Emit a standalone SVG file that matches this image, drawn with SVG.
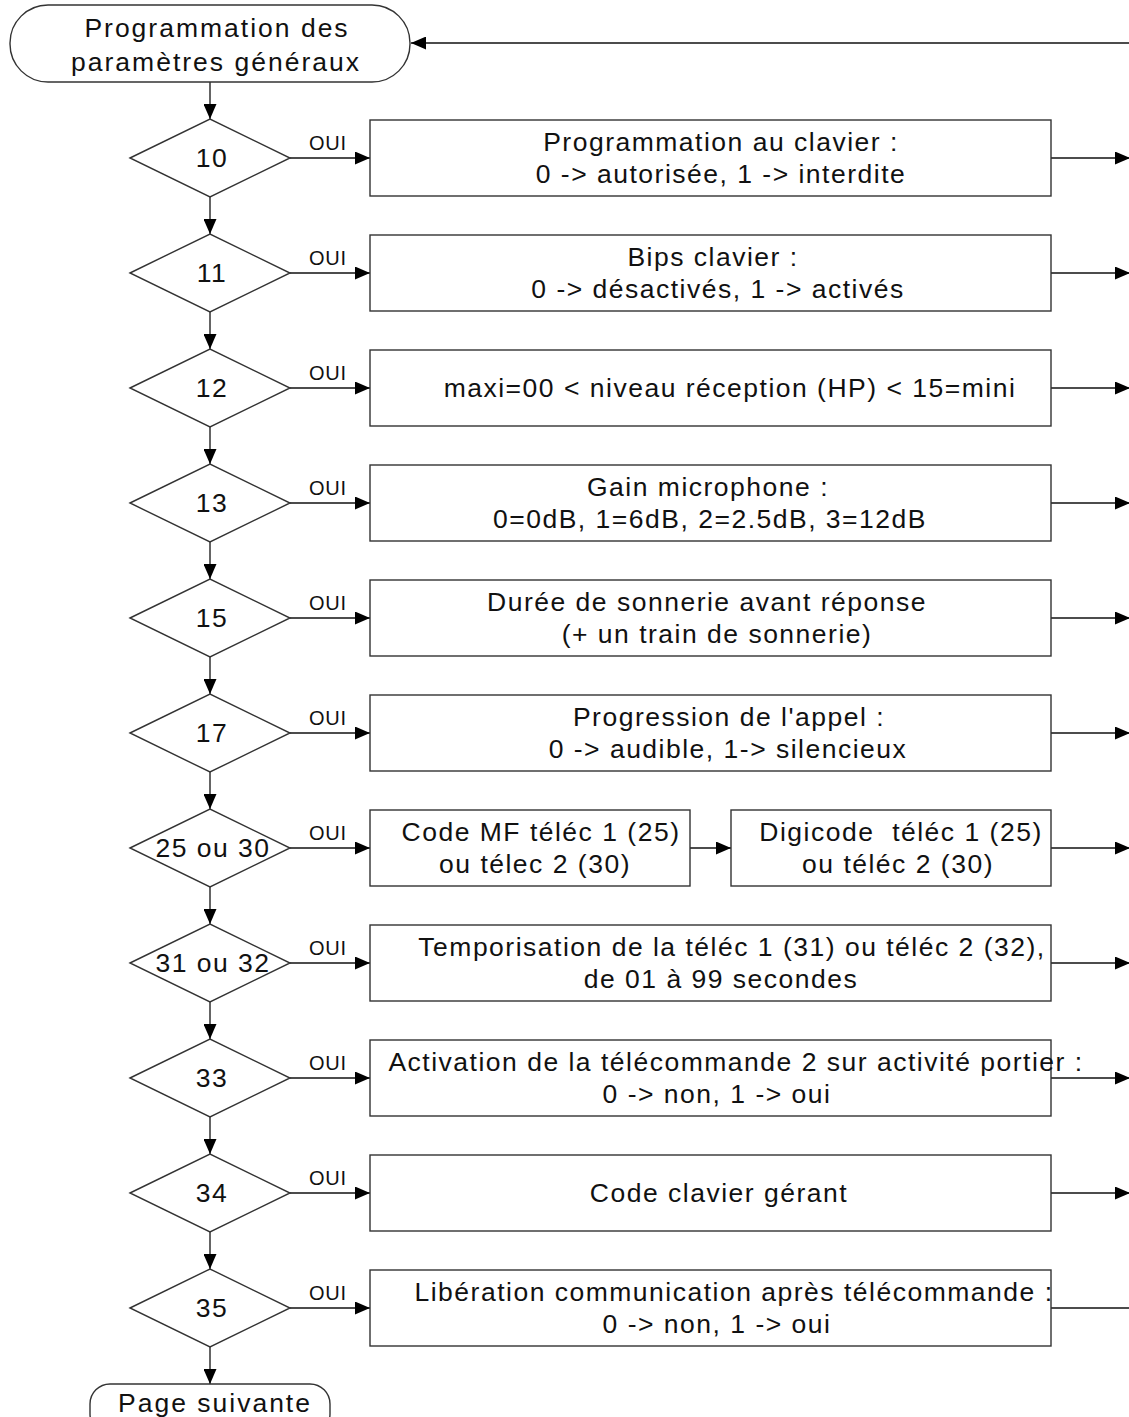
<svg xmlns="http://www.w3.org/2000/svg" width="1129" height="1417" viewBox="0 0 1129 1417">
  <style>
    .shape { fill: #fff; stroke: #333; stroke-width: 1.4; }
    .wire { fill: none; stroke: #111; stroke-width: 1.3; }
    .t { font-family: "Liberation Sans", Arial, sans-serif; font-size: 26.5px; letter-spacing: 1.5px; fill: #111; text-anchor: middle; }
    .big { letter-spacing: 2px; }
    .oui { font-family: "Liberation Sans", Arial, sans-serif; font-size: 20px; letter-spacing: 0.8px; fill: #111; }
  </style>
  <defs>
    <marker id="arrow" markerUnits="userSpaceOnUse" markerWidth="15" markerHeight="13" refX="15" refY="6.5" orient="auto">
      <path d="M0,0 L15,6.5 L0,13 Z" fill="#000"/>
    </marker>
  </defs>

  <rect width="1129" height="1417" fill="#fff"/>

  <!-- connectors -->
  <g id="connectors" class="wire">
    <path d="M1129,43 L411,43" marker-end="url(#arrow)"/>
    <path d="M210,82 L210,119" marker-end="url(#arrow)"/>
    <!-- vertical chain between decisions -->
    <path d="M210,197 L210,234" marker-end="url(#arrow)"/>
    <path d="M210,312 L210,349" marker-end="url(#arrow)"/>
    <path d="M210,427 L210,464" marker-end="url(#arrow)"/>
    <path d="M210,542 L210,579" marker-end="url(#arrow)"/>
    <path d="M210,657 L210,694" marker-end="url(#arrow)"/>
    <path d="M210,772 L210,809" marker-end="url(#arrow)"/>
    <path d="M210,887 L210,924" marker-end="url(#arrow)"/>
    <path d="M210,1002 L210,1039" marker-end="url(#arrow)"/>
    <path d="M210,1117 L210,1154" marker-end="url(#arrow)"/>
    <path d="M210,1232 L210,1269" marker-end="url(#arrow)"/>
    <path d="M210,1347 L210,1384" marker-end="url(#arrow)"/>
    <!-- OUI branches -->
    <path d="M290,158 L370,158" marker-end="url(#arrow)"/>
    <path d="M290,273 L370,273" marker-end="url(#arrow)"/>
    <path d="M290,388 L370,388" marker-end="url(#arrow)"/>
    <path d="M290,503 L370,503" marker-end="url(#arrow)"/>
    <path d="M290,618 L370,618" marker-end="url(#arrow)"/>
    <path d="M290,733 L370,733" marker-end="url(#arrow)"/>
    <path d="M290,848 L370,848" marker-end="url(#arrow)"/>
    <path d="M290,963 L370,963" marker-end="url(#arrow)"/>
    <path d="M290,1078 L370,1078" marker-end="url(#arrow)"/>
    <path d="M290,1193 L370,1193" marker-end="url(#arrow)"/>
    <path d="M290,1308 L370,1308" marker-end="url(#arrow)"/>
    <path d="M690,848 L731,848" marker-end="url(#arrow)"/>
    <!-- returns to the right -->
    <path d="M1051,158 L1130,158" marker-end="url(#arrow)"/>
    <path d="M1051,273 L1130,273" marker-end="url(#arrow)"/>
    <path d="M1051,388 L1130,388" marker-end="url(#arrow)"/>
    <path d="M1051,503 L1130,503" marker-end="url(#arrow)"/>
    <path d="M1051,618 L1130,618" marker-end="url(#arrow)"/>
    <path d="M1051,733 L1130,733" marker-end="url(#arrow)"/>
    <path d="M1051,848 L1130,848" marker-end="url(#arrow)"/>
    <path d="M1051,963 L1130,963" marker-end="url(#arrow)"/>
    <path d="M1051,1078 L1130,1078" marker-end="url(#arrow)"/>
    <path d="M1051,1193 L1130,1193" marker-end="url(#arrow)"/>
    <path d="M1051,1308 L1129,1308"/>
  </g>

  <!-- OUI labels -->
  <g id="labels">
    <text class="oui" x="309" y="150">OUI</text>
    <text class="oui" x="309" y="265">OUI</text>
    <text class="oui" x="309" y="380">OUI</text>
    <text class="oui" x="309" y="495">OUI</text>
    <text class="oui" x="309" y="610">OUI</text>
    <text class="oui" x="309" y="725">OUI</text>
    <text class="oui" x="309" y="840">OUI</text>
    <text class="oui" x="309" y="955">OUI</text>
    <text class="oui" x="309" y="1070">OUI</text>
    <text class="oui" x="309" y="1185">OUI</text>
    <text class="oui" x="309" y="1300">OUI</text>
  </g>

  <g id="start">
    <rect class="shape" x="10" y="5" width="400" height="77" rx="38" ry="38"/>
    <text class="t big" x="217" y="37">Programmation des</text>
    <text class="t big" x="216" y="71">paramètres généraux</text>
  </g>

  <g id="d10"><path class="shape" d="M130,158 L210,119 L290,158 L210,197 Z"/><text class="t" x="212" y="167">10</text></g>
  <g id="d11"><path class="shape" d="M130,273 L210,234 L290,273 L210,312 Z"/><text class="t" x="212" y="282">11</text></g>
  <g id="d12"><path class="shape" d="M130,388 L210,349 L290,388 L210,427 Z"/><text class="t" x="212" y="397">12</text></g>
  <g id="d13"><path class="shape" d="M130,503 L210,464 L290,503 L210,542 Z"/><text class="t" x="212" y="512">13</text></g>
  <g id="d15"><path class="shape" d="M130,618 L210,579 L290,618 L210,657 Z"/><text class="t" x="212" y="627">15</text></g>
  <g id="d17"><path class="shape" d="M130,733 L210,694 L290,733 L210,772 Z"/><text class="t" x="212" y="742">17</text></g>
  <g id="d25"><path class="shape" d="M130,848 L210,809 L290,848 L210,887 Z"/><text class="t" x="213" y="857">25 ou 30</text></g>
  <g id="d31"><path class="shape" d="M130,963 L210,924 L290,963 L210,1002 Z"/><text class="t" x="213" y="972">31 ou 32</text></g>
  <g id="d33"><path class="shape" d="M130,1078 L210,1039 L290,1078 L210,1117 Z"/><text class="t" x="212" y="1087">33</text></g>
  <g id="d34"><path class="shape" d="M130,1193 L210,1154 L290,1193 L210,1232 Z"/><text class="t" x="212" y="1202">34</text></g>
  <g id="d35"><path class="shape" d="M130,1308 L210,1269 L290,1308 L210,1347 Z"/><text class="t" x="212" y="1317">35</text></g>

  <g id="b10"><rect class="shape" x="370" y="120" width="681" height="76"/>
    <text class="t" x="721" y="151">Programmation au clavier :</text>
    <text class="t" x="721" y="183">0 -&gt; autorisée, 1 -&gt; interdite</text></g>
  <g id="b11"><rect class="shape" x="370" y="235" width="681" height="76"/>
    <text class="t" x="713" y="266">Bips clavier :</text>
    <text class="t" x="718" y="298">0 -&gt; désactivés, 1 -&gt; activés</text></g>
  <g id="b12"><rect class="shape" x="370" y="350" width="681" height="76"/>
    <text class="t" x="730" y="397">maxi=00 &lt; niveau réception (HP) &lt; 15=mini</text></g>
  <g id="b13"><rect class="shape" x="370" y="465" width="681" height="76"/>
    <text class="t" x="708" y="496">Gain microphone :</text>
    <text class="t" x="710" y="528">0=0dB, 1=6dB, 2=2.5dB, 3=12dB</text></g>
  <g id="b15"><rect class="shape" x="370" y="580" width="681" height="76"/>
    <text class="t" x="707" y="611">Durée de sonnerie avant réponse</text>
    <text class="t" x="717" y="643">(+ un train de sonnerie)</text></g>
  <g id="b17"><rect class="shape" x="370" y="695" width="681" height="76"/>
    <text class="t" x="729" y="726">Progression de l'appel :</text>
    <text class="t" x="728" y="758">0 -&gt; audible, 1-&gt; silencieux</text></g>
  <g id="b25a"><rect class="shape" x="370" y="810" width="320" height="76"/>
    <text class="t" x="541" y="841">Code MF téléc 1 (25)</text>
    <text class="t" x="535" y="873">ou télec 2 (30)</text></g>
  <g id="b25b"><rect class="shape" x="731" y="810" width="320" height="76"/>
    <text class="t" x="901" y="841" xml:space="preserve">Digicode  téléc 1 (25)</text>
    <text class="t" x="898" y="873">ou téléc 2 (30)</text></g>
  <g id="b31"><rect class="shape" x="370" y="925" width="681" height="76"/>
    <text class="t" x="732" y="956">Temporisation de la téléc 1 (31) ou téléc 2 (32),</text>
    <text class="t" x="721" y="988">de 01 à 99 secondes</text></g>
  <g id="b33"><rect class="shape" x="370" y="1040" width="681" height="76"/>
    <text class="t" x="736" y="1071">Activation de la télécommande 2 sur activité portier :</text>
    <text class="t" x="717" y="1103">0 -&gt; non, 1 -&gt; oui</text></g>
  <g id="b34"><rect class="shape" x="370" y="1155" width="681" height="76"/>
    <text class="t" x="719" y="1202">Code clavier gérant</text></g>
  <g id="b35"><rect class="shape" x="370" y="1270" width="681" height="76"/>
    <text class="t" x="734" y="1301">Libération communication après télécommande :</text>
    <text class="t" x="717" y="1333">0 -&gt; non, 1 -&gt; oui</text></g>

  <g id="end">
    <rect class="shape" x="90" y="1384" width="240" height="50" rx="20" ry="20"/>
    <text class="t big" x="215" y="1412">Page suivante</text>
  </g>
</svg>
